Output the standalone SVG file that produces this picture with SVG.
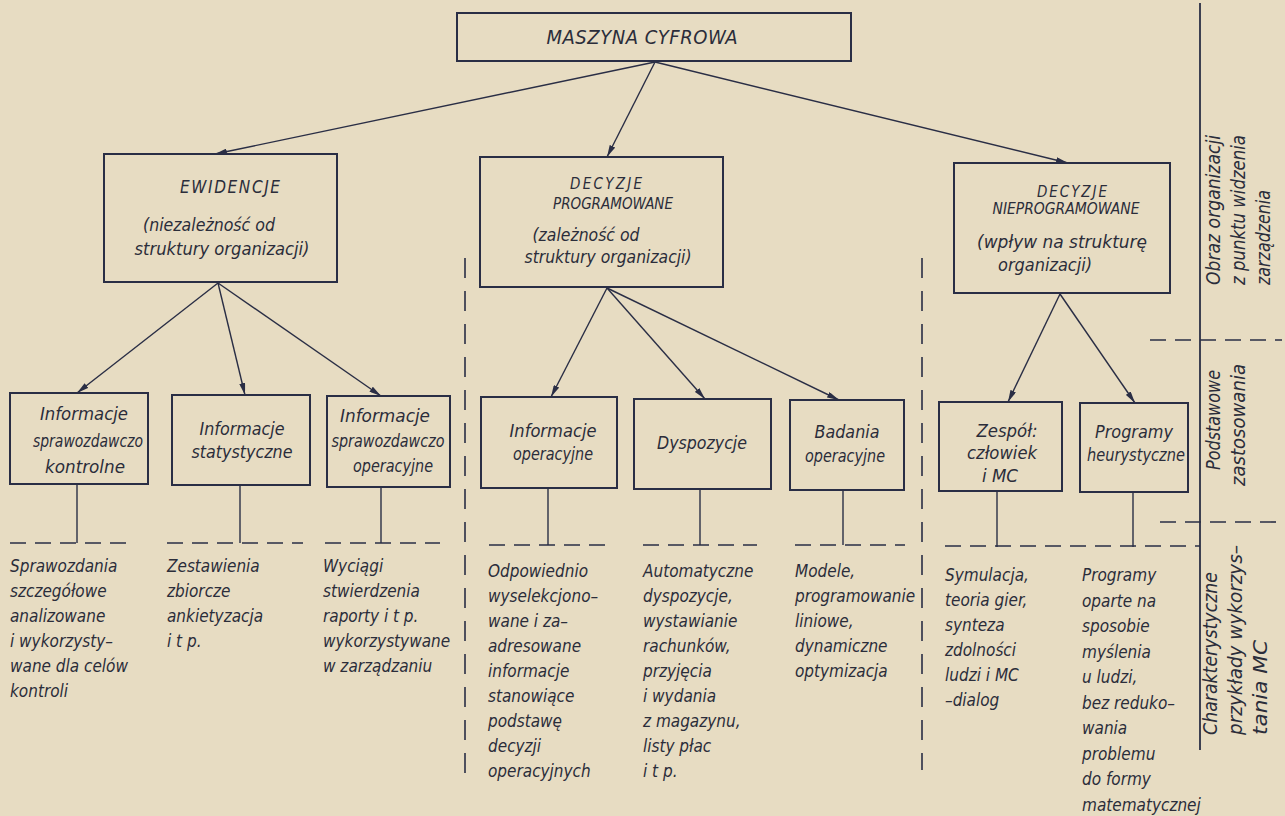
<svg xmlns="http://www.w3.org/2000/svg" width="1285" height="816" viewBox="0 0 1285 816">
<style>
text{font-family:"DejaVu Sans Condensed","Liberation Sans Narrow","DejaVu Sans",sans-serif;font-style:oblique;fill:#2b2d3a;font-size:17px}
.c{text-anchor:middle}
.b{font-size:18px}
.cap{font-size:15px}
.sl{font-size:19px}
.box{fill:none;stroke:#2a2e45;stroke-width:2}
.ln{stroke:#2a2e45;stroke-width:1.4;fill:none}
.ar{stroke:#2a2e45;stroke-width:1.4;fill:none;marker-end:url(#ah)}
.dh{stroke:#2a2e45;stroke-width:1.6;stroke-dasharray:16 9;fill:none}
.dv{stroke:#2a2e45;stroke-width:1.6;stroke-dasharray:20 13;fill:none}
</style>
<defs>
<marker id="ah" viewBox="0 0 12 6" refX="12" refY="3" markerWidth="12" markerHeight="6" markerUnits="userSpaceOnUse" orient="auto">
<path d="M0,0 L12,3 L0,6 z" fill="#2a2e45"/>
</marker>
</defs>
<rect width="1285" height="816" fill="#e7dcc2"/>

<g id="connectors">
<line class="ar" x1="655" y1="62" x2="215" y2="154"/>
<line class="ar" x1="655" y1="62" x2="607" y2="157"/>
<line class="ar" x1="655" y1="62" x2="1068" y2="163"/>
<line class="ar" x1="218" y1="283" x2="77" y2="393"/>
<line class="ar" x1="218" y1="283" x2="245" y2="395"/>
<line class="ar" x1="218" y1="283" x2="381" y2="396"/>
<line class="ar" x1="607" y1="288" x2="551" y2="397"/>
<line class="ar" x1="607" y1="288" x2="705" y2="399"/>
<line class="ar" x1="607" y1="288" x2="839" y2="400"/>
<line class="ar" x1="1060" y1="294" x2="1008" y2="402"/>
<line class="ar" x1="1060" y1="294" x2="1135" y2="403"/>
<line class="ln" x1="77" y1="484" x2="77" y2="543"/>
<line class="ln" x1="240" y1="485" x2="240" y2="543"/>
<line class="ln" x1="381" y1="487" x2="381" y2="543"/>
<line class="ln" x1="548" y1="488" x2="548" y2="545"/>
<line class="ln" x1="700" y1="489" x2="700" y2="545"/>
<line class="ln" x1="843" y1="490" x2="843" y2="545"/>
<line class="ln" x1="997" y1="491" x2="997" y2="547"/>
<line class="ln" x1="1133" y1="492" x2="1133" y2="547"/>
<line class="dh" x1="10" y1="543" x2="127" y2="543"/>
<line class="dh" x1="167" y1="543" x2="303" y2="543"/>
<line class="dh" x1="325" y1="543" x2="440" y2="543"/>
<line class="dh" x1="489" y1="545" x2="614" y2="545"/>
<line class="dh" x1="643" y1="545" x2="757" y2="545"/>
<line class="dh" x1="795" y1="545" x2="905" y2="545"/>
<line class="dh" x1="945" y1="546" x2="1200" y2="546"/>
<line class="dh" x1="1150" y1="340" x2="1282" y2="340"/>
<line class="dh" x1="1160" y1="522" x2="1282" y2="522"/>
<line class="dv" x1="465" y1="258" x2="465" y2="780"/>
<line class="dv" x1="922" y1="258" x2="922" y2="770"/>
<line class="ln" x1="1200" y1="3" x2="1200" y2="750" style="stroke-width:1.8"/>
</g>

<g id="maszyna">
<rect class="box" x="457" y="13" width="394" height="48"/>
<text class="c" x="642" y="44" style="font-size:20px" textLength="191" lengthAdjust="spacing">MASZYNA CYFROWA</text>
</g>

<g id="ewidencje">
<rect class="box" x="104" y="154" width="233" height="128"/>
<text class="c" x="230" y="193" style="font-size:17px" textLength="100" lengthAdjust="spacing">EWIDENCJE</text>
<text class="c b" x="209" y="231" textLength="132" lengthAdjust="spacingAndGlyphs">(niezależność od</text>
<text class="c b" x="222" y="255" textLength="175" lengthAdjust="spacingAndGlyphs">struktury organizacji)</text>
</g>

<g id="decyzje-prog">
<rect class="box" x="480" y="157" width="243" height="130"/>
<text class="c cap" x="606" y="189" textLength="72" lengthAdjust="spacing">DECYZJE</text>
<text class="c cap" x="613" y="209" textLength="120" lengthAdjust="spacingAndGlyphs">PROGRAMOWANE</text>
<text class="c b" x="586" y="241" textLength="107" lengthAdjust="spacingAndGlyphs">(zależność od</text>
<text class="c b" x="608" y="263" textLength="167" lengthAdjust="spacingAndGlyphs">struktury organizacji)</text>
</g>

<g id="decyzje-nieprog">
<rect class="box" x="954" y="163" width="216" height="130"/>
<text class="c cap" x="1072" y="197" textLength="70" lengthAdjust="spacing">DECYZJE</text>
<text class="c cap" x="1066" y="214" textLength="147" lengthAdjust="spacingAndGlyphs">NIEPROGRAMOWANE</text>
<text class="c" x="1062" y="248" textLength="170" lengthAdjust="spacingAndGlyphs">(wpływ na strukturę</text>
<text class="c" x="1045" y="271" textLength="94" lengthAdjust="spacingAndGlyphs">organizacji)</text>
</g>

<g id="info-kontrolne">
<rect class="box" x="10" y="393" width="138" height="91"/>
<text class="c b" x="84" y="420" textLength="88" lengthAdjust="spacingAndGlyphs">Informacje</text>
<text class="c b" x="88" y="447" textLength="110" lengthAdjust="spacingAndGlyphs">sprawozdawczo</text>
<text class="c b" x="85" y="473" textLength="80" lengthAdjust="spacingAndGlyphs">kontrolne</text>
</g>

<g id="info-statystyczne">
<rect class="box" x="172" y="395" width="138" height="90"/>
<text class="c b" x="242" y="435" textLength="85" lengthAdjust="spacingAndGlyphs">Informacje</text>
<text class="c b" x="242" y="458" textLength="101" lengthAdjust="spacingAndGlyphs">statystyczne</text>
</g>

<g id="info-operacyjne-spr">
<rect class="box" x="327" y="396" width="123" height="91"/>
<text class="c b" x="385" y="422" textLength="90" lengthAdjust="spacingAndGlyphs">Informacje</text>
<text class="c b" x="388" y="447" textLength="113" lengthAdjust="spacingAndGlyphs">sprawozdawczo</text>
<text class="c b" x="393" y="472" textLength="80" lengthAdjust="spacingAndGlyphs">operacyjne</text>
</g>

<g id="info-operacyjne">
<rect class="box" x="481" y="397" width="136" height="91"/>
<text class="c b" x="553" y="437" textLength="87" lengthAdjust="spacingAndGlyphs">Informacje</text>
<text class="c" x="553" y="460" textLength="80" lengthAdjust="spacingAndGlyphs">operacyjne</text>
</g>

<g id="dyspozycje">
<rect class="box" x="634" y="399" width="137" height="90"/>
<text class="c b" x="702" y="449" textLength="90" lengthAdjust="spacingAndGlyphs">Dyspozycje</text>
</g>

<g id="badania">
<rect class="box" x="790" y="400" width="114" height="90"/>
<text class="c b" x="847" y="438" textLength="65" lengthAdjust="spacingAndGlyphs">Badania</text>
<text class="c" x="845" y="462" textLength="80" lengthAdjust="spacingAndGlyphs">operacyjne</text>
</g>

<g id="zespol">
<rect class="box" x="939" y="402" width="123" height="89"/>
<text class="c b" x="1007" y="437" textLength="61" lengthAdjust="spacingAndGlyphs">Zespół:</text>
<text class="c b" x="1002" y="459" textLength="70" lengthAdjust="spacingAndGlyphs">człowiek</text>
<text class="c b" x="1000" y="482" textLength="36" lengthAdjust="spacingAndGlyphs">i MC</text>
</g>

<g id="heurystyczne">
<rect class="box" x="1080" y="403" width="108" height="89"/>
<text class="c b" x="1134" y="438" textLength="78" lengthAdjust="spacingAndGlyphs">Programy</text>
<text class="c" x="1136" y="461" textLength="98" lengthAdjust="spacingAndGlyphs">heurystyczne</text>
</g>

<g id="bottom-texts">
<text x="10" y="572">Sprawozdania<tspan x="10" dy="25">szczegółowe</tspan><tspan x="10" dy="25">analizowane</tspan><tspan x="10" dy="25">i wykorzysty–</tspan><tspan x="10" dy="25">wane dla celów</tspan><tspan x="10" dy="25">kontroli</tspan></text>
<text x="167" y="572">Zestawienia<tspan x="167" dy="25">zbiorcze</tspan><tspan x="167" dy="25">ankietyzacja</tspan><tspan x="167" dy="25">i t p.</tspan></text>
<text x="323" y="572">Wyciągi<tspan x="323" dy="25">stwierdzenia</tspan><tspan x="323" dy="25">raporty i t p.</tspan><tspan x="323" dy="25">wykorzystywane</tspan><tspan x="323" dy="25">w zarządzaniu</tspan></text>
<text x="488" y="577">Odpowiednio<tspan x="488" dy="25">wyselekcjono–</tspan><tspan x="488" dy="25">wane i za–</tspan><tspan x="488" dy="25">adresowane</tspan><tspan x="488" dy="25">informacje</tspan><tspan x="488" dy="25">stanowiące</tspan><tspan x="488" dy="25">podstawę</tspan><tspan x="488" dy="25">decyzji</tspan><tspan x="488" dy="25">operacyjnych</tspan></text>
<text x="643" y="577">Automatyczne<tspan x="643" dy="25">dyspozycje,</tspan><tspan x="643" dy="25">wystawianie</tspan><tspan x="643" dy="25">rachunków,</tspan><tspan x="643" dy="25">przyjęcia</tspan><tspan x="643" dy="25">i wydania</tspan><tspan x="643" dy="25">z magazynu,</tspan><tspan x="643" dy="25">listy płac</tspan><tspan x="643" dy="25">i t p.</tspan></text>
<text x="795" y="577">Modele,<tspan x="795" dy="25">programowanie</tspan><tspan x="795" dy="25">liniowe,</tspan><tspan x="795" dy="25">dynamiczne</tspan><tspan x="795" dy="25">optymizacja</tspan></text>
<text x="945" y="581">Symulacja,<tspan x="945" dy="25">teoria gier,</tspan><tspan x="945" dy="25">synteza</tspan><tspan x="945" dy="25">zdolności</tspan><tspan x="945" dy="25">ludzi i MC</tspan><tspan x="945" dy="25">–dialog</tspan></text>
<text x="1082" y="581">Programy<tspan x="1082" dy="25.5">oparte na</tspan><tspan x="1082" dy="25.5">sposobie</tspan><tspan x="1082" dy="25.5">myślenia</tspan><tspan x="1082" dy="25.5">u ludzi,</tspan><tspan x="1082" dy="25.5">bez reduko–</tspan><tspan x="1082" dy="25.5">wania</tspan><tspan x="1082" dy="25.5">problemu</tspan><tspan x="1082" dy="25.5">do formy</tspan><tspan x="1082" dy="25.5">matematycznej</tspan></text>
</g>

<g id="side-labels">
<text class="sl" transform="translate(1220,285) rotate(-90)" textLength="150" lengthAdjust="spacingAndGlyphs">Obraz organizacji</text>
<text class="sl" transform="translate(1245,285) rotate(-90)" textLength="150" lengthAdjust="spacingAndGlyphs">z punktu widzenia</text>
<text class="sl" transform="translate(1270,285) rotate(-90)" textLength="95" lengthAdjust="spacingAndGlyphs">zarządzenia</text>
<text class="sl c" transform="translate(1220,420) rotate(-90)" textLength="100" lengthAdjust="spacingAndGlyphs">Podstawowe</text>
<text class="sl c" transform="translate(1245,425) rotate(-90)" textLength="122" lengthAdjust="spacingAndGlyphs">zastosowania</text>
<text class="sl" transform="translate(1217,735) rotate(-90)" textLength="163" lengthAdjust="spacingAndGlyphs">Charakterystyczne</text>
<text class="sl" transform="translate(1242,735) rotate(-90)" textLength="190" lengthAdjust="spacingAndGlyphs">przykłady wykorzys–</text>
<text class="sl" transform="translate(1267,735) rotate(-90)" textLength="95" lengthAdjust="spacingAndGlyphs">tania MC</text>
</g>
</svg>
